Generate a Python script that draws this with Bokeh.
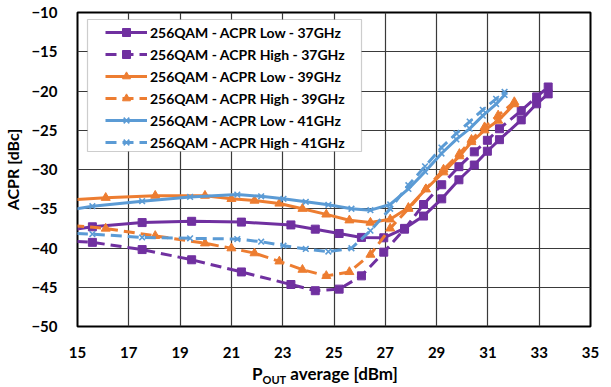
from bokeh.plotting import figure
from bokeh.layouts import column
from bokeh.models import (Legend, LegendItem, BoxAnnotation, FixedTicker, Range1d, Div)
from bokeh.embed import file_html
from bokeh.resources import INLINE

# Measured ACPR versus average output power, 256QAM, three carrier frequencies
pout_37 = [13.65, 15.58, 17.52, 19.45, 21.39, 23.32, 24.27, 25.2, 26.07, 26.94,
           27.75, 28.49, 29.2, 29.87, 30.47, 30.98, 31.45, 32.3, 32.9, 33.35]
acpr_low_37 = [-38.2, -37.3, -36.76, -36.6, -36.7, -37.06, -37.6, -38.15, -38.65, -38.7,
               -37.5, -35.93, -33.74, -31.31, -29.43, -27.67, -26.2, -23.68, -21.63, -20.37]
acpr_high_37 = [-38.9, -39.28, -40.2, -41.5, -43.05, -44.65, -45.44, -45.24, -43.55, -40.53,
                -37.6, -34.46, -31.94, -29.64, -27.75, -26.28, -24.81, -22.5, -20.75, -19.49]

pout_39 = [14.17, 16.1, 18.03, 19.97, 21.0, 21.9, 22.87, 23.77, 24.7, 25.6,
           26.42, 27.19, 27.9, 28.58, 29.27, 29.89, 30.36, 30.87, 31.4, 32.03]
acpr_low_39 = [-34.0, -33.6, -33.33, -33.33, -33.74, -33.96, -34.33, -35.0, -35.72, -36.47,
               -36.76, -36.35, -34.87, -32.5, -30.35, -28.3, -26.5, -25.0, -23.77, -21.67]
acpr_high_39 = [-36.95, -37.52, -38.45, -39.4, -40.03, -40.66, -41.7, -42.76, -43.55, -43.05,
                -40.84, -37.5, -35.0, -32.5, -30.0, -28.0, -26.2, -24.6, -23.1, -21.4]

pout_41 = [13.65, 15.58, 17.52, 19.39, 21.23, 22.16, 23.03, 23.9, 24.78, 25.68,
           26.42, 27.19, 27.9, 28.55, 29.19, 29.77, 30.29, 30.8, 31.32, 31.65]
acpr_low_41 = [-35.7, -34.67, -34.04, -33.49, -33.2, -33.42, -33.74, -34.12, -34.5, -35.0,
               -35.18, -34.46, -32.48, -30.27, -27.96, -26.17, -24.8, -23.14, -21.67, -20.5]
acpr_high_41 = [-38.0, -38.23, -38.65, -38.77, -38.86, -39.2, -39.7, -40.12, -40.46, -40.03,
                -37.8, -35.0, -32.0, -29.6, -27.2, -25.4, -23.9, -22.4, -21.0, -20.1]

x_ticks = list(range(15, 36, 2))
y_ticks = list(range(-50, -9, 5))

PURPLE = "#7030A0"
ORANGE = "#ED7D31"
BLUE = "#5B9BD5"
FONT = "Lato"

series = [
    ("256QAM - ACPR Low - 37GHz", pout_37, acpr_low_37, PURPLE, "solid", "square"),
    ("256QAM - ACPR High - 37GHz", pout_37, acpr_high_37, PURPLE, "dashed", "square"),
    ("256QAM - ACPR Low - 39GHz", pout_39, acpr_low_39, ORANGE, "solid", "triangle"),
    ("256QAM - ACPR High - 39GHz", pout_39, acpr_high_39, ORANGE, "dashed", "triangle"),
    ("256QAM - ACPR Low - 41GHz", pout_41, acpr_low_41, BLUE, "solid", "x"),
    ("256QAM - ACPR High - 41GHz", pout_41, acpr_high_41, BLUE, "dashed", "x"),
]

p = figure(width=611, height=362, output_backend="svg", toolbar_location=None,
           x_range=Range1d(15, 35), y_range=Range1d(-50, -10))
p.margin = 0
p.min_border_left = 74
p.min_border_right = 21
p.min_border_top = 12
p.min_border_bottom = 36
p.background_fill_color = "white"
p.border_fill_color = "white"
p.outline_line_color = "black"
p.outline_line_width = 2

for ax in (p.xaxis[0], p.yaxis[0]):
    ax.axis_line_color = None
    ax.major_tick_line_color = None
    ax.minor_tick_line_color = None
    ax.major_label_text_font = FONT
    ax.major_label_text_font_style = "bold"
    ax.major_label_text_font_size = "15px"
    ax.major_label_text_color = "black"

p.xaxis.ticker = FixedTicker(ticks=x_ticks)
p.yaxis.ticker = FixedTicker(ticks=y_ticks)
p.xaxis.major_label_standoff = 14
p.yaxis.major_label_standoff = 14

p.yaxis.axis_label = "ACPR [dBc]"
p.yaxis.axis_label_text_font = FONT
p.yaxis.axis_label_text_font_style = "bold"
p.yaxis.axis_label_text_font_size = "16px"
p.yaxis.axis_label_text_color = "black"
p.yaxis.axis_label_standoff = 6

for g in (p.xgrid[0], p.ygrid[0]):
    g.grid_line_color = "#3a3a3a"
    g.grid_line_width = 1.2

items = []
for label, xs, ys, color, dash, marker in series:
    ln = p.line(xs, ys, line_color=color, line_width=3, line_dash=dash if dash == "solid" else "11 6",
                line_join="round")
    if marker == "x":
        mk = p.scatter(xs, ys, marker="x", size=8, line_color=color, line_width=1.6)
    elif marker == "triangle":
        mk = p.scatter(xs, ys, marker="triangle", size=9, fill_color=color, line_color=color)
    else:
        mk = p.scatter(xs, ys, marker="square", size=8, fill_color=color, line_color=color)
    items.append(LegendItem(label=label, renderers=[ln, mk]))

# legend frame drawn separately so the key lines can be inset from the border
box = BoxAnnotation(left=87, right=361, top=19, bottom=151,
                    left_units="canvas", right_units="canvas",
                    top_units="canvas", bottom_units="canvas",
                    fill_color="white", fill_alpha=1.0,
                    line_color="#5a5a5a", line_width=1.2, level="annotation")
p.add_layout(box)

legend = Legend(items=items, location=(28, 174), glyph_width=42, glyph_height=20,
                label_height=20, spacing=2, padding=2, margin=0, label_standoff=3,
                border_line_color=None, background_fill_alpha=0.0,
                label_text_font=FONT, label_text_font_style="bold",
                label_text_font_size="14px", label_text_color="black")
p.add_layout(legend)

# x-axis title with the OUT subscript, set as a line of text under the plot
x_title = Div(
    text=('<span style="font-family: Lato; font-weight: bold; font-size: 17px; '
          'color: black; line-height: 18px;">P<span style="font-size: 11px; '
          'position: relative; top: 4px;">OUT</span> average [dBm]</span>'),
    width=611, height=25, margin=0,
    styles={"padding-left": "252px", "padding-top": "3px", "background-color": "white"},
)

layout = column(p, x_title, spacing=0, margin=0)

open("out.html", "w").write(file_html(layout, INLINE))
